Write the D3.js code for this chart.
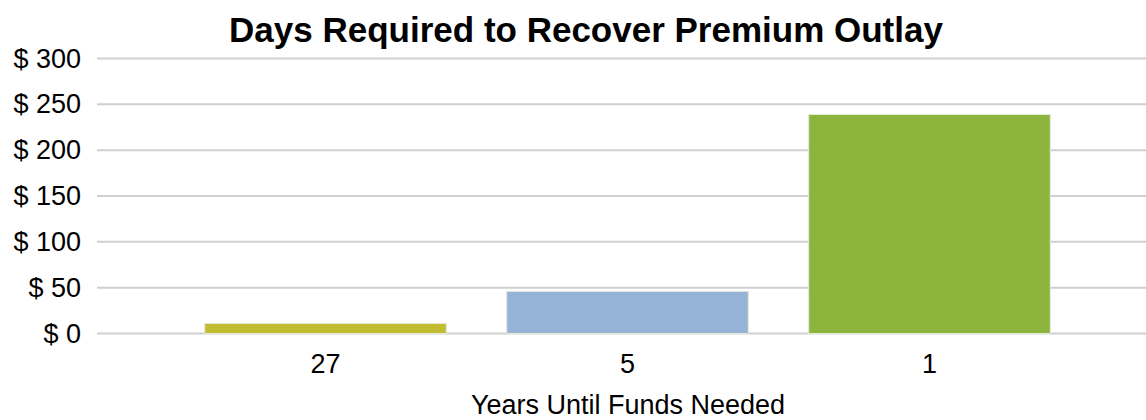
<!DOCTYPE html>
<html>
<head>
<meta charset="utf-8">
<script src="https://cdn.jsdelivr.net/npm/d3@7"></script>
<style>
  body { margin: 0; background: #fff; }
  text { font-family: "Liberation Sans", Arial, sans-serif; fill: #000; }
</style>
</head>
<body>
<div id="graph"></div>
<script>
var categories = ["27", "5", "1"];
var values = [11, 46, 239];
var colors = ["#c1bc32", "#95b3d7", "#8db43c"];
var yTicks = [0, 50, 100, 150, 200, 250, 300];

addEventListener("load", function () {
  draw();
});

function draw() {
  var svg = d3.select("#graph")
      .append("svg")
      .attr("width", 1146)
      .attr("height", 420);

  var y = d3.scaleLinear()
      .domain([0, 300])
      .range([333.5, 58.5]);

  var x = d3.scaleBand()
      .domain(categories)
      .range([174.5, 1080.5])
      .paddingInner(0.2)
      .paddingOuter(0.1);

  // gridlines
  svg.selectAll("line.grid")
    .data(yTicks)
    .enter()
    .append("line")
    .attr("class", "grid")
    .attr("x1", 97)
    .attr("x2", 1146)
    .attr("y1", function (d) { return y(d); })
    .attr("y2", function (d) { return y(d); })
    .attr("stroke", "#cfcfcf")
    .attr("stroke-width", 2);

  var yAxis = d3.axisLeft(y)
      .tickValues(yTicks)
      .tickSize(0)
      .tickPadding(0)
      .tickFormat(function (d) { return "$ " + d; });

  var gy = svg.append("g")
      .attr("transform", "translate(81,0)")
      .call(yAxis);
  gy.select(".domain").remove();
  gy.selectAll("text")
    .attr("font-size", 27)
    .attr("font-family", "Liberation Sans, Arial, sans-serif")
    .attr("fill", "#000");

  svg.selectAll("rect.bar")
    .data(values)
    .enter()
    .append("rect")
    .attr("class", "bar")
    .attr("x", function (d, i) { return x(categories[i]); })
    .attr("width", x.bandwidth())
    .attr("y", function (d) { return y(d); })
    .attr("height", function (d) { return y(0) - y(d); })
    .attr("fill", function (d, i) { return colors[i]; })
    .attr("stroke", "#e4ecd8")
    .attr("stroke-width", 1);

  var xAxis = d3.axisBottom(x)
      .tickSize(0)
      .tickPadding(0);

  var gx = svg.append("g")
      .attr("transform", "translate(0,354)")
      .call(xAxis);
  gx.select(".domain").remove();
  gx.selectAll("text")
    .attr("font-size", 27)
    .attr("font-family", "Liberation Sans, Arial, sans-serif")
    .attr("fill", "#000");

  svg.append("text")
    .attr("x", 586)
    .attr("y", 42)
    .attr("text-anchor", "middle")
    .attr("font-size", 35)
    .attr("font-weight", "bold")
    .text("Days Required to Recover Premium Outlay");

  svg.append("text")
    .attr("x", 628)
    .attr("y", 414)
    .attr("text-anchor", "middle")
    .attr("font-size", 27)
    .text("Years Until Funds Needed");
}
</script>
</body>
</html>
